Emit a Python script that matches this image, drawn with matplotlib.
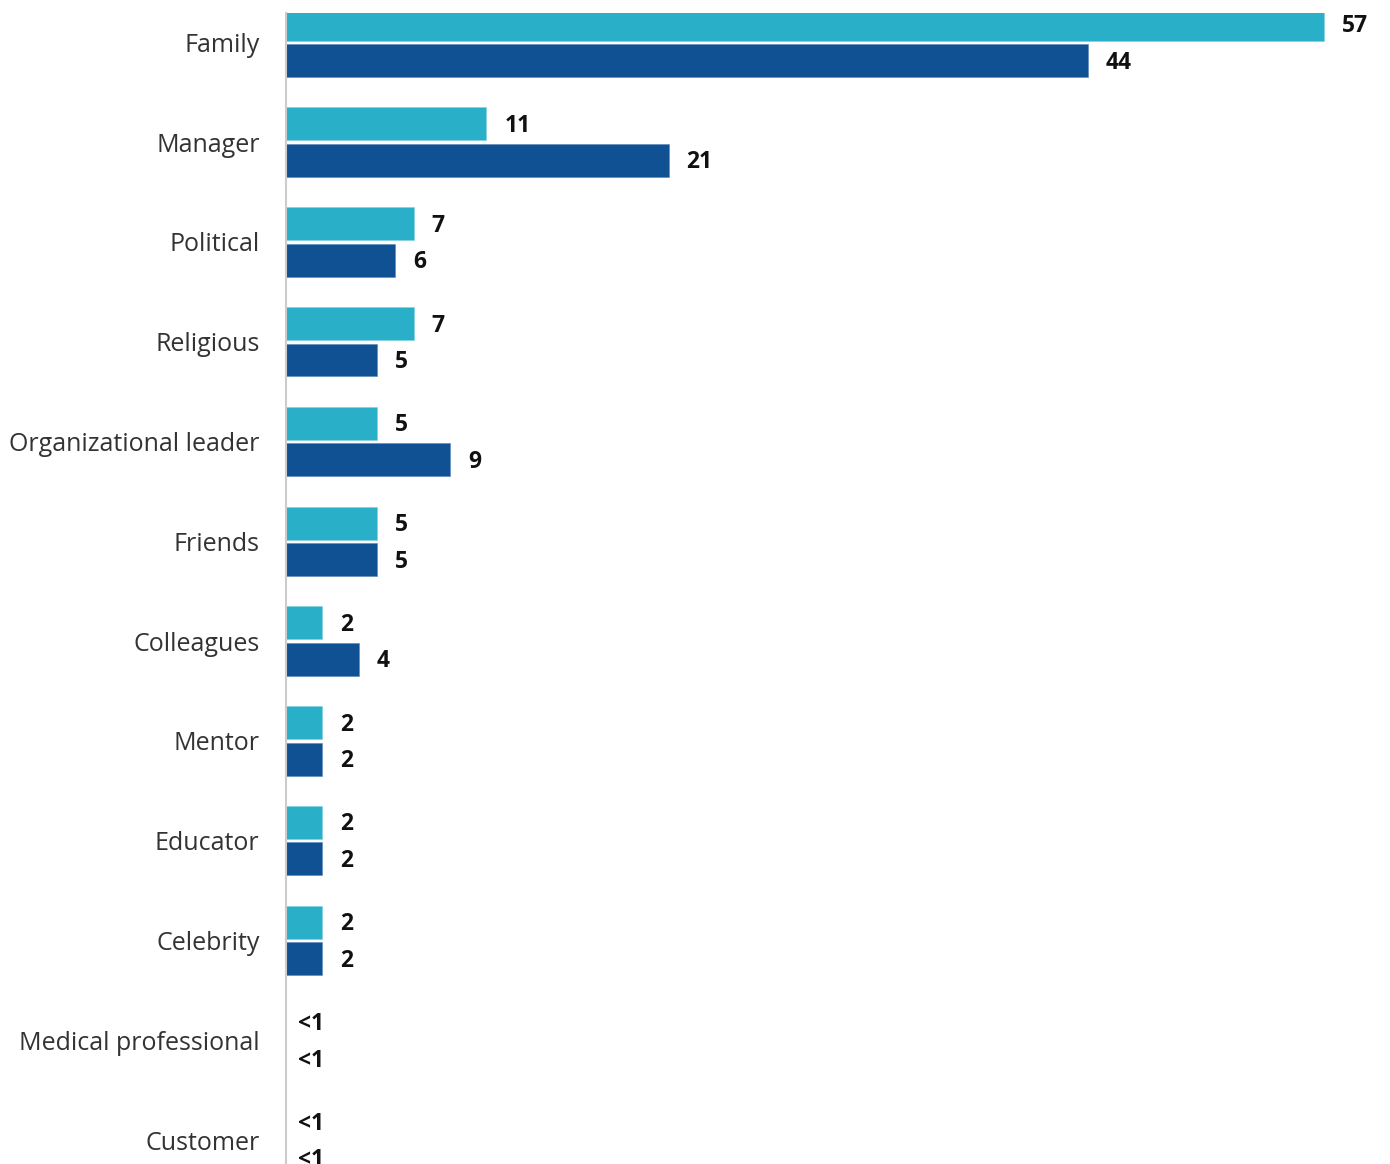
import matplotlib
matplotlib.use("Agg")
import matplotlib.pyplot as plt
import numpy as np

categories = ["Family", "Manager", "Political", "Religious", "Organizational leader",
              "Friends", "Colleagues", "Mentor", "Educator", "Celebrity",
              "Medical professional", "Customer"]
series_a = [57, 11, 7, 7, 5, 5, 2, 2, 2, 2, 0, 0]
series_b = [44, 21, 6, 5, 9, 5, 4, 2, 2, 2, 0, 0]
labels_a = ["57", "11", "7", "7", "5", "5", "2", "2", "2", "2", "<1", "<1"]
labels_b = ["44", "21", "6", "5", "9", "5", "4", "2", "2", "2", "<1", "<1"]

color_a = "#2AAFC8"
color_b = "#0F5192"

W, H = 1390, 1164
fig = plt.figure(figsize=(W / 100, H / 100), dpi=100)
ax = fig.add_axes([286 / W, 0, 1 - 286 / W, 1 - 13 / H])

y = np.arange(len(categories))
h = 0.33
off = 0.183
ax.barh(y - off, series_a, height=h, color=color_a, edgecolor="#7fd0e0", linewidth=0.4)
ax.barh(y + off, series_b, height=h, color=color_b, edgecolor="#5a86b8", linewidth=0.4)

ax.set_xlim(0, 60.6)
ax.set_ylim(11.24, -0.294)

font = "Open Sans"
for ys, vals, labs in ((y - off, series_a, labels_a), (y + off, series_b, labels_b)):
    for yi, v, lab in zip(ys, vals, labs):
        dx = 12 if lab.startswith("<") else 18
        ax.annotate(lab, (v, yi), xytext=(dx * 0.72, -1.5), textcoords="offset points",
                    ha="left", va="center", fontsize=16.5, fontweight="bold",
                    color="#111111", family=font)

ax.set_yticks(y)
ax.set_yticklabels(categories, fontsize=18, color="#333333", family=font)
ax.tick_params(axis="y", length=0, pad=19)
ax.set_xticks([])
for s in ["top", "right", "bottom"]:
    ax.spines[s].set_visible(False)
ax.spines["left"].set_color("#cccccc")
ax.spines["left"].set_linewidth(1.5)

fig.savefig("out.png", dpi=100)
